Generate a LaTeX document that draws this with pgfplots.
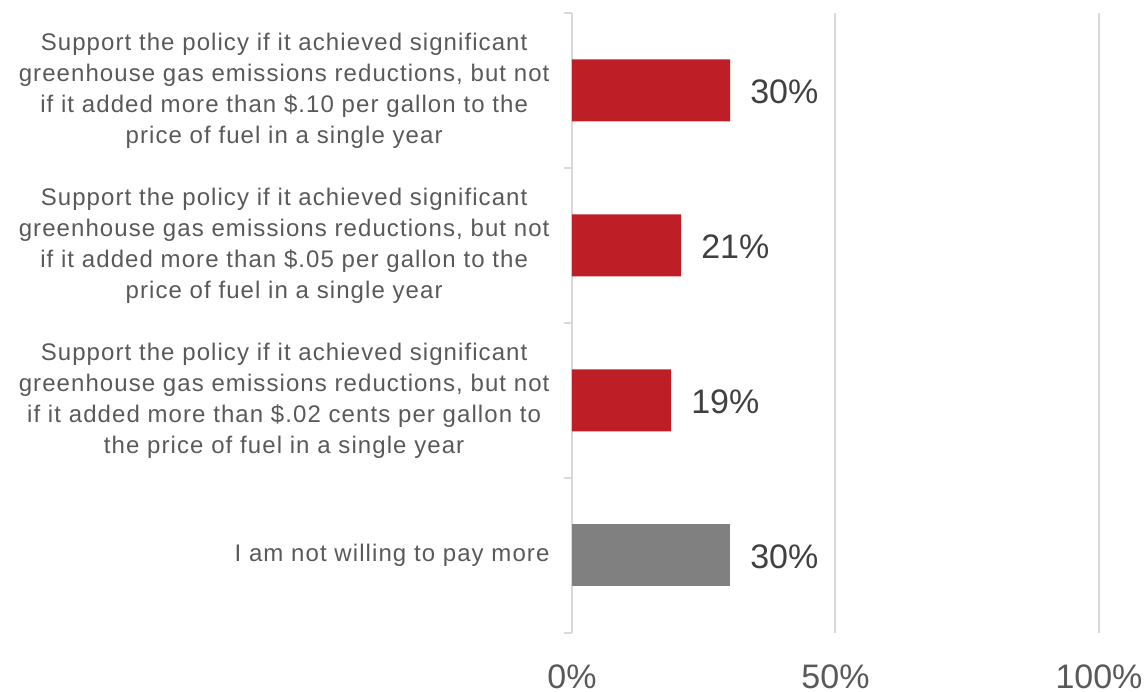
\documentclass[border=0pt]{standalone}
\usepackage{pgfplots}
\pgfplotsset{compat=1.18}
\usepackage{fontspec}
\setmainfont{Liberation Sans}
\newfontfamily\lblfont[LetterSpace=4.5]{Liberation Sans}
\definecolor{barred}{HTML}{BE1E26}
\definecolor{bargray}{HTML}{808080}
\definecolor{txt}{HTML}{595959}
\definecolor{val}{HTML}{404040}
\definecolor{gridc}{HTML}{D9D9D9}
\begin{document}
\begin{tikzpicture}
\begin{axis}[name=ax,
 scale only axis, width=527pt, height=620pt,
 xmin=0, xmax=100, ymin=-0.5, ymax=3.5,
 xbar, bar width=62pt, bar shift=0pt,
 axis lines*=left,
 x axis line style={draw=none},
 y axis line style={draw=gridc, line width=2pt},
 xtick={0,50,100}, xticklabels={0\%,50\%,100\%},
 xmajorgrids, grid style={draw=gridc, line width=2pt},
 major tick length=0pt,
 xticklabel style={font=\fontsize{34}{40}\selectfont, text=txt, yshift=-28pt},
 ytick={0,1,2,3},
 yticklabels={{I am not willing to pay more},
   {Support the policy if it achieved significant\\greenhouse gas emissions reductions, but not\\if it added more than \$.02 cents per gallon to\\the price of fuel in a single year},
   {Support the policy if it achieved significant\\greenhouse gas emissions reductions, but not\\if it added more than \$.05 per gallon to the\\price of fuel in a single year},
   {Support the policy if it achieved significant\\greenhouse gas emissions reductions, but not\\if it added more than \$.10 per gallon to the\\price of fuel in a single year}},
 minor ytick={-0.5,0.5,1.5,2.5,3.5},
 minor tick length=8pt,
 minor y tick style={draw=gridc, line width=2pt},
 tick align=outside,
 yticklabel style={align=center, font=\lblfont\fontsize{24}{31}\selectfont, text=txt, xshift=-19pt},
 nodes near coords, point meta=explicit symbolic,
 nodes near coords style={font=\fontsize{34}{40}\selectfont, text=val, inner sep=0pt, xshift=20pt, anchor=west, yshift=-1pt},
]
\addplot[fill=barred, draw=none] coordinates {(30,3) [30\%] (20.7,2) [21\%] (18.8,1) [19\%]};
\addplot[fill=bargray, draw=none] coordinates {(30,0) [30\%]};
\end{axis}
\pgfresetboundingbox
\path[use as bounding box] (ax.south west) ++(-572pt,-59pt) rectangle ++(1148pt,692pt);
\end{tikzpicture}
\end{document}
